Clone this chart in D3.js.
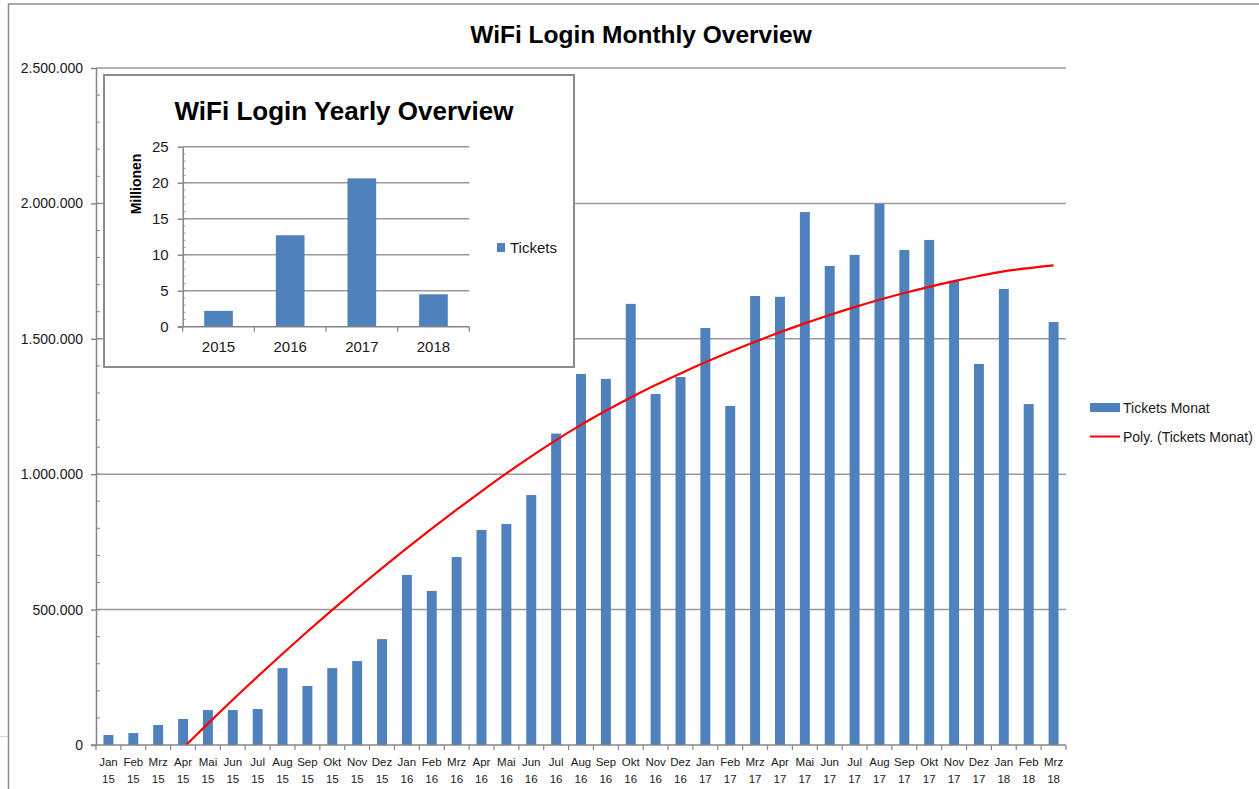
<!DOCTYPE html>
<html>
<head>
<meta charset="utf-8">
<script src="https://cdn.jsdelivr.net/npm/d3@7"></script>
<style>
  body { margin: 0; background: #fff; }
  text { font-family: "Liberation Sans", Arial, sans-serif; fill: #1a1a1a; }
</style>
</head>
<body>
<div id="chart"></div>
<script>
// ---- data ----
var months = ["Jan 15","Feb 15","Mrz 15","Apr 15","Mai 15","Jun 15","Jul 15","Aug 15","Sep 15","Okt 15","Nov 15","Dez 15",
              "Jan 16","Feb 16","Mrz 16","Apr 16","Mai 16","Jun 16","Jul 16","Aug 16","Sep 16","Okt 16","Nov 16","Dez 16",
              "Jan 17","Feb 17","Mrz 17","Apr 17","Mai 17","Jun 17","Jul 17","Aug 17","Sep 17","Okt 17","Nov 17","Dez 17",
              "Jan 18","Feb 18","Mrz 18"];
var ticketsMonat = [37000, 44000, 74000, 96000, 129000, 129000, 133000, 284000, 218000, 284000, 310000, 391000,
                    628000, 569000, 694000, 794000, 816000, 923000, 1150000, 1370000, 1352000, 1629000, 1296000, 1359000,
                    1540000, 1252000, 1658000, 1655000, 1968000, 1769000, 1810000, 1998000, 1828000, 1865000, 1714000, 1407000,
                    1684000, 1259000, 1562000];
// polynomial trend line (below zero it is cut off)
var polyTicketsMonat = [null, null, -95000, -11000, 79000, 167000, 253000, 337000, 419000, 499000, 577000, 653000,
                        727000, 799000, 869000, 937000, 1003000, 1066000, 1126000, 1182000, 1234000, 1283000, 1329000, 1372000,
                        1413000, 1452000, 1489000, 1524000, 1557000, 1588000, 1617000, 1644000, 1669000, 1692000, 1713000, 1732000,
                        1749000, 1761000, 1771000];
var yTicks = [0, 500000, 1000000, 1500000, 2000000, 2500000];

var years = ["2015", "2016", "2017", "2018"];
var ticketsYear = [2.2, 12.7, 20.6, 4.5]; // Millionen
var yTicksYear = [0, 5, 10, 15, 20, 25];

var barColor = "#4f81bd";
var gridColor = "#9a9a9a";

var de = d3.formatLocale({decimal: ",", thousands: ".", grouping: [3], currency: ["", " €"]});
var fmt = de.format(",");

var svg = d3.select("#chart")
    .append("svg")
    .attr("width", 1259)
    .attr("height", 789);

svg.append("rect").attr("width", 1259).attr("height", 789).attr("fill", "#fff");

// sheet leftovers + chart frame
svg.append("line").attr("x1", 0).attr("x2", 8).attr("y1", 736.5).attr("y2", 736.5)
   .attr("stroke", "#d9d9d9").attr("stroke-width", 1);
svg.append("rect")
   .attr("x", 8.5).attr("y", 4).attr("width", 1300).attr("height", 850)
   .attr("fill", "none").attr("stroke", "#8c8c8c").attr("stroke-width", 1.5);

svg.append("text")
   .attr("x", 641).attr("y", 43)
   .attr("text-anchor", "middle")
   .style("font-size", "24.5px").style("font-weight", "bold").style("fill", "#000")
   .text("WiFi Login Monthly Overview");

///////////////////
// MONTHLY CHART //
///////////////////

var x = d3.scaleBand().domain(months).range([96, 1066]).paddingInner(0.6).paddingOuter(0.3);
var y = d3.scaleLinear().domain([0, 2500000]).range([745, 68]);

var g = svg.append("g");

// gridlines
g.selectAll(".grid")
 .data(yTicks.filter(function(d) { return d > 0; }))
 .enter().append("line")
 .attr("x1", 96).attr("x2", 1066)
 .attr("y1", function(d) { return y(d); })
 .attr("y2", function(d) { return y(d); })
 .attr("stroke", gridColor).attr("stroke-width", 1.5);

// bars
g.selectAll(".bar")
 .data(ticketsMonat)
 .enter().append("rect")
 .attr("fill", barColor)
 .attr("x", function(d, i) { return x(months[i]); })
 .attr("y", function(d) { return y(d); })
 .attr("width", x.bandwidth())
 .attr("height", function(d) { return y(0) - y(d); });

// trend line, clipped to the plot area
svg.append("clipPath").attr("id", "plotclip")
   .append("rect").attr("x", 96).attr("y", 60).attr("width", 970).attr("height", 685);

var trend = d3.line()
    .defined(function(d) { return d != null; })
    .x(function(d, i) { return x(months[i]) + x.bandwidth() / 2; })
    .y(function(d) { return y(d); })
    .curve(d3.curveMonotoneX);

g.append("path")
 .datum(polyTicketsMonat)
 .attr("clip-path", "url(#plotclip)")
 .attr("fill", "none")
 .attr("stroke", "#ff0000")
 .attr("stroke-width", 2.2)
 .attr("d", trend);

// y axis
var yAxis = g.append("g")
    .attr("transform", "translate(96,0)")
    .call(d3.axisLeft(y).tickValues(yTicks).tickFormat(fmt).tickSize(5).tickSizeOuter(0).tickPadding(8));
yAxis.select(".domain").attr("stroke", "#868686").attr("stroke-width", 1.5);
yAxis.selectAll(".tick line").attr("stroke", "#868686").attr("stroke-width", 1.5);
yAxis.selectAll(".tick text").style("font-size", "14px").style("font-family", "Liberation Sans, Arial, sans-serif").attr("fill", "#1a1a1a");

// minor ticks
g.selectAll(".minor")
 .data(d3.range(100000, 2500000, 100000))
 .enter().append("line")
 .attr("x1", 96).attr("x2", 100)
 .attr("y1", function(d) { return y(d); })
 .attr("y2", function(d) { return y(d); })
 .attr("stroke", "#868686").attr("stroke-width", 1);

// x axis
g.append("line")
 .attr("x1", 91).attr("x2", 1066).attr("y1", y(0)).attr("y2", y(0))
 .attr("stroke", "#868686").attr("stroke-width", 1.5);

g.selectAll(".xtick")
 .data(d3.range(months.length + 1))
 .enter().append("line")
 .attr("x1", function(i) { return x.range()[0] + i * x.step(); })
 .attr("x2", function(i) { return x.range()[0] + i * x.step(); })
 .attr("y1", y(0)).attr("y2", y(0) + 5)
 .attr("stroke", "#868686").attr("stroke-width", 1.2);

var xl = g.selectAll(".xlabel")
    .data(months)
    .enter().append("text")
    .attr("text-anchor", "middle")
    .style("font-size", "11.5px");
xl.append("tspan")
  .attr("x", function(d) { return x(d) + x.bandwidth() / 2; })
  .attr("y", 766)
  .text(function(d) { return d.split(" ")[0]; });
xl.append("tspan")
  .attr("x", function(d) { return x(d) + x.bandwidth() / 2; })
  .attr("y", 783)
  .text(function(d) { return d.split(" ")[1]; });

// legend
svg.append("rect").attr("x", 1090).attr("y", 403).attr("width", 30).attr("height", 9).attr("fill", barColor);
svg.append("text").attr("x", 1123).attr("y", 413).style("font-size", "14px").text("Tickets Monat");
svg.append("line").attr("x1", 1090).attr("x2", 1120).attr("y1", 436.5).attr("y2", 436.5)
   .attr("stroke", "#ff0000").attr("stroke-width", 2);
svg.append("text").attr("x", 1123).attr("y", 442).style("font-size", "14px").text("Poly. (Tickets Monat)");

//////////////////
// YEARLY INSET //
//////////////////

var inset = svg.append("g");
inset.append("rect")
     .attr("x", 104).attr("y", 75).attr("width", 470).attr("height", 292)
     .attr("fill", "#fff").attr("stroke", "#8c8c8c").attr("stroke-width", 2);

inset.append("text")
     .attr("x", 344).attr("y", 120)
     .attr("text-anchor", "middle")
     .style("font-size", "26px").style("font-weight", "bold").style("fill", "#000")
     .text("WiFi Login Yearly Overview");

var xi = d3.scaleBand().domain(years).range([182.7, 469.3]).paddingInner(0.6).paddingOuter(0.3);
var yi = d3.scaleLinear().domain([0, 25]).range([326.7, 146.7]);

inset.selectAll(".igrid")
     .data(yTicksYear.filter(function(d) { return d > 0; }))
     .enter().append("line")
     .attr("x1", 182.7).attr("x2", 469.3)
     .attr("y1", function(d) { return yi(d); })
     .attr("y2", function(d) { return yi(d); })
     .attr("stroke", gridColor).attr("stroke-width", 1.5);

inset.selectAll(".ibar")
     .data(ticketsYear)
     .enter().append("rect")
     .attr("fill", barColor)
     .attr("x", function(d, i) { return xi(years[i]); })
     .attr("y", function(d) { return yi(d); })
     .attr("width", xi.bandwidth())
     .attr("height", function(d) { return yi(0) - yi(d); });

var yiAxis = inset.append("g")
    .attr("transform", "translate(182.7,0)")
    .call(d3.axisLeft(yi).tickValues(yTicksYear).tickSize(5).tickSizeOuter(0).tickPadding(9));
yiAxis.select(".domain").attr("stroke", "#868686").attr("stroke-width", 1.5);
yiAxis.selectAll(".tick line").attr("stroke", "#868686").attr("stroke-width", 1.5);
yiAxis.selectAll(".tick text").style("font-size", "15px").style("font-family", "Liberation Sans, Arial, sans-serif").attr("fill", "#1a1a1a");

inset.selectAll(".iminor")
     .data(d3.range(1, 25))
     .enter().append("line")
     .attr("x1", 182.7).attr("x2", 185.5)
     .attr("y1", function(d) { return yi(d); })
     .attr("y2", function(d) { return yi(d); })
     .attr("stroke", "#868686").attr("stroke-width", 0.8);

inset.append("line")
     .attr("x1", 178).attr("x2", 469.3).attr("y1", yi(0)).attr("y2", yi(0))
     .attr("stroke", "#868686").attr("stroke-width", 1.5);

inset.selectAll(".ixtick")
     .data(d3.range(years.length + 1))
     .enter().append("line")
     .attr("x1", function(i) { return xi.range()[0] + i * xi.step(); })
     .attr("x2", function(i) { return xi.range()[0] + i * xi.step(); })
     .attr("y1", yi(0)).attr("y2", yi(0) + 5)
     .attr("stroke", "#868686").attr("stroke-width", 1.2);

inset.selectAll(".ixlabel")
     .data(years)
     .enter().append("text")
     .attr("x", function(d) { return xi(d) + xi.bandwidth() / 2; })
     .attr("y", 352)
     .attr("text-anchor", "middle")
     .style("font-size", "15px")
     .text(function(d) { return d; });

inset.append("text")
     .attr("transform", "translate(141,184) rotate(-90)")
     .attr("text-anchor", "middle")
     .style("font-size", "14px").style("font-weight", "bold").style("fill", "#000")
     .text("Millionen");

inset.append("rect").attr("x", 497).attr("y", 243).attr("width", 8).attr("height", 9).attr("fill", barColor);
inset.append("text").attr("x", 510).attr("y", 253).style("font-size", "15px").text("Tickets");
</script>
</body>
</html>
